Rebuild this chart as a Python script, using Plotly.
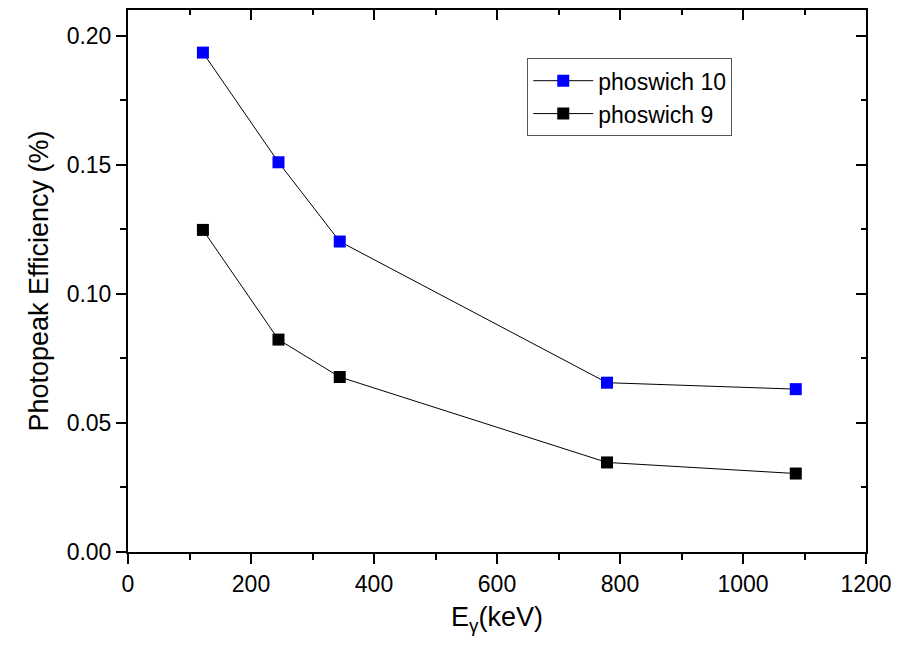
import plotly.graph_objects as go

energy_keV = [121.8, 244.7, 344.3, 778.9, 1085.8]
eff_phoswich10 = [0.1935, 0.1510, 0.1203, 0.0656, 0.0631]
eff_phoswich9 = [0.1248, 0.0823, 0.0678, 0.0347, 0.0304]
series_names = ["phoswich 10", "phoswich 9"]
marker_colors = ["#0000FF", "#000000"]

FONT = "Liberation Sans, Arial, sans-serif"

fig = go.Figure()
for name, ys, col in zip(series_names, [eff_phoswich10, eff_phoswich9], marker_colors):
    fig.add_trace(go.Scatter(
        x=energy_keV, y=ys, name=name, mode="lines+markers",
        line=dict(color="black", width=1),
        marker=dict(symbol="square", size=12, color=col, line=dict(width=0)),
    ))

# invisible trace to activate mirrored axes
fig.add_trace(go.Scatter(x=[None], y=[None], xaxis="x2", yaxis="y2",
                         showlegend=False, hoverinfo="skip"))

axis_common = dict(
    showgrid=False, zeroline=False, showline=True, linecolor="black", linewidth=2,
    tickcolor="black", tickwidth=2, ticklen=10,
    tickfont=dict(family=FONT, size=23, color="black"),
)

fig.update_layout(
    width=902, height=649,
    margin=dict(l=128, r=36, t=10, b=97),
    paper_bgcolor="white", plot_bgcolor="white",
    font=dict(family=FONT, color="black"),
    xaxis=dict(
        range=[0, 1200], dtick=200, tick0=0, ticks="outside",
        minor=dict(ticks="outside", ticklen=6, dtick=100, tickcolor="black", tickwidth=2),
        title=dict(text="E<sub>γ</sub>(keV)", font=dict(family=FONT, size=27), standoff=12),
        **axis_common,
    ),
    yaxis=dict(
        range=[0, 0.21], dtick=0.05, tick0=0, ticks="outside", tickformat=".2f",
        minor=dict(ticks="outside", ticklen=6, dtick=0.025, tickcolor="black", tickwidth=2),
        title=dict(text="Photopeak Efficiency (%)", font=dict(family=FONT, size=27), standoff=10),
        **axis_common,
    ),
    xaxis2=dict(
        overlaying="x", matches="x", side="top", anchor="y2", range=[0, 1200],
        dtick=200, tick0=0, ticks="inside", showticklabels=False,
        minor=dict(ticks="inside", ticklen=5, dtick=100, tickcolor="black", tickwidth=2),
        **axis_common,
    ),
    yaxis2=dict(
        overlaying="y", matches="y", side="right", anchor="x2", range=[0, 0.21],
        dtick=0.05, tick0=0, ticks="inside", showticklabels=False,
        minor=dict(ticks="inside", ticklen=5, dtick=0.025, tickcolor="black", tickwidth=2),
        **axis_common,
    ),
    legend=dict(
        x=0.541, y=0.911, xanchor="left", yanchor="top",
        bordercolor="#555555", borderwidth=1, bgcolor="white",
        font=dict(family=FONT, size=23, color="black"),
        tracegroupgap=0, itemwidth=60,
    ),
    showlegend=True,
)

fig.write_html("out.html")
